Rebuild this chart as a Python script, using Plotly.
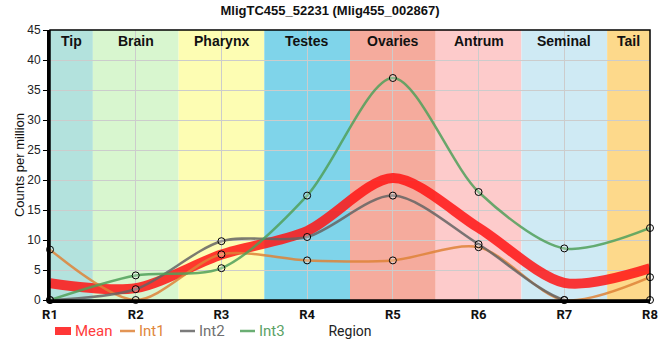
import plotly.graph_objects as go

regions = ["R1", "R2", "R3", "R4", "R5", "R6", "R7", "R8"]
int1 = [8.4, 0.0, 7.6, 6.6, 6.6, 8.8, 0.0, 3.8]
int2 = [0.0, 1.8, 9.8, 10.5, 17.4, 9.3, 0.0, 0.0]
int3 = [0.0, 4.1, 5.3, 17.4, 37.0, 18.0, 8.6, 12.0]
mean = [round((a + b + c) / 3, 2) for a, b, c in zip(int1, int2, int3)]

tissues = ["Tip", "Brain", "Pharynx", "Testes", "Ovaries", "Antrum", "Seminal", "Tail"]
tissue_colors = ["#b3e2dd", "#d8f6cf", "#fdfdb3", "#7fd4ea", "#f5ab9d", "#fdcbcb", "#cfeaf4", "#fdd98b"]

x = list(range(1, len(regions) + 1))

W, H = 660, 360
ML, MR, MT, MB = 50, 10, 30, 60
PW, PH = W - ML - MR, H - MT - MB


def px(xs):
    return (xs - ML) / PW


def py(ys):
    return (H - MB - ys) / PH


fig = go.Figure()

shapes = []
annotations = []
for i, (t, c) in enumerate(zip(tissues, tissue_colors)):
    x0 = max(1, x[i] - 0.5)
    x1 = min(len(regions), x[i] + 0.5)
    shapes.append(dict(type="rect", xref="x", yref="y", x0=x0, x1=x1, y0=0, y1=45,
                       fillcolor=c, line_width=0, layer="below"))
    annotations.append(dict(x=(x0 + x1) / 2, y=45, xref="x", yref="y", text="<b>%s</b>" % t,
                            showarrow=False, yanchor="top", yshift=-1,
                            font=dict(family="Liberation Sans, Arial", size=14, color="#111")))

# frame
shapes.append(dict(type="rect", xref="paper", yref="paper", x0=0, x1=1, y0=0, y1=1,
                   line=dict(color="black", width=1.5), fillcolor="rgba(0,0,0,0)", layer="above"))

series = [
    ("Mean", mean, "rgba(255,20,20,0.85)", 10, "#ff3b3b", False),
    ("Int1", int1, "rgba(222,130,55,0.85)", 2.5, "#e0873c", True),
    ("Int2", int2, "rgba(100,100,100,0.85)", 2.5, "#707070", True),
    ("Int3", int3, "rgba(80,160,90,0.85)", 2.5, "#5aa266", True),
]
for name, ys, col, w, tcol, mk in series:
    fig.add_trace(go.Scatter(
        x=x, y=ys, mode="lines", name=name, showlegend=False,
        line=dict(color=col, width=w, shape="spline", smoothing=0.85),
        cliponaxis=True, hoverinfo="skip"))
for name, ys, col, w, tcol, mk in series:
    if mk:
        fig.add_trace(go.Scatter(
            x=x, y=ys, mode="markers", showlegend=False,
            marker=dict(size=7, color="rgba(255,255,255,0.25)", line=dict(color="black", width=1)),
            cliponaxis=False, hoverinfo="skip"))

# custom legend (symbol positions in pixels)
legend_pos = [(55, 71), (120, 135), (180, 195), (240, 255)]
ly = 331
for (name, ys, col, w, tcol, mk), (a, b) in zip(series, legend_pos):
    if name == "Mean":
        shapes.append(dict(type="rect", xref="paper", yref="paper", x0=px(a), x1=px(b),
                           y0=py(ly + 4), y1=py(ly - 4), fillcolor=col, line_width=0))
    else:
        shapes.append(dict(type="line", xref="paper", yref="paper", x0=px(a), x1=px(b),
                           y0=py(ly), y1=py(ly), line=dict(color=col, width=2.5)))
    annotations.append(dict(x=px(b + 2), y=py(ly), xref="paper", yref="paper", text=name,
                            showarrow=False, xanchor="left", yanchor="middle",
                            font=dict(family="Roboto", size=15, color=tcol)))

fig.update_layout(
    width=W, height=H,
    margin=dict(l=ML, r=MR, t=MT, b=MB, autoexpand=False),
    paper_bgcolor="white", plot_bgcolor="white",
    title=dict(text="<b>MligTC455_52231 (Mlig455_002867)</b>", x=px(330), xanchor="center", xref="paper",
               y=1 - 10 / H, yanchor="middle", yref="container",
               font=dict(family="Liberation Sans, Arial", size=13, color="#111")),
    shapes=shapes, annotations=annotations,
    showlegend=False,
    font=dict(family="Liberation Sans, Arial", size=12, color="#111"),
)
fig.update_xaxes(
    range=[1, 8], tickmode="array", tickvals=x, ticktext=["<b>%s</b>" % r for r in regions],
    tickfont=dict(family="Roboto", size=13, color="#111"), automargin=False,
    showgrid=True, gridcolor="#cccccc", gridwidth=1,
    showline=True, linecolor="black", linewidth=3, zeroline=False,
    ticks="", layer="above traces",
    title=dict(text="Region", font=dict(family="Roboto", size=14, color="#222"), standoff=6),
)
fig.update_yaxes(
    range=[0, 45], dtick=5, tickfont=dict(family="Liberation Sans, Arial", size=12, color="#222"),
    automargin=False,
    showgrid=True, gridcolor="#cccccc", gridwidth=1,
    showline=True, linecolor="black", linewidth=3, zeroline=False,
    ticks="outside", ticklen=4, tickcolor="black",
    title=dict(text="Counts per million", font=dict(family="Liberation Sans, Arial", size=13, color="#111"), standoff=0),
)

fig.write_html("out.html", config={"displayModeBar": False},
               post_script="document.body.style.margin='0';")
